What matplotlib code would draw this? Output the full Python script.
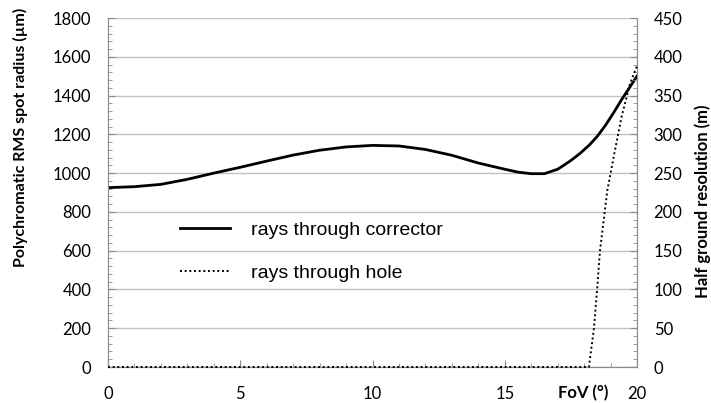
import matplotlib.pyplot as plt
from matplotlib.ticker import MultipleLocator

# rays through corrector: polychromatic RMS spot radius (um) vs FoV (deg)
fov_corr = [0, 1, 2, 3, 4, 5, 6, 7, 8, 9, 10, 11, 12, 13, 14, 15, 15.5, 16,
            16.5, 17, 17.25, 17.5, 17.85, 18.2, 18.5, 18.8, 19.1, 19.4,
            19.75, 20]
spot_corr = [925, 930, 942, 968, 1000, 1030, 1062, 1093, 1118, 1135, 1143,
             1140, 1122, 1092, 1052, 1020, 1005, 997, 997, 1020, 1042, 1065,
             1102, 1145, 1190, 1245, 1308, 1375, 1448, 1500]

# rays through hole: half ground resolution (m)
fov_hole = [0, 18.18, 18.37, 18.49, 18.6, 18.88, 19.17, 19.42, 19.74, 20]
res_hole = [0, 0, 49, 99, 150, 228, 280, 323, 366, 388]

x_ticks = [0, 5, 10, 15, 20]

tick_font = "Lato"
grey = "#8c8c8c"

fig = plt.figure(figsize=(7.11, 4.03), dpi=100)
ax = fig.add_axes([108 / 711, 36 / 403, 529 / 711, 349 / 403])
ax2 = ax.twinx()

l1, = ax.plot(fov_corr, spot_corr, color="black", lw=2.0, zorder=5,
              label="rays through corrector")
l2, = ax2.plot(fov_hole, res_hole, color="black", lw=1.4,
               linestyle=(0, (1, 1.4)), zorder=5, clip_on=False,
               label="rays through hole")

ax.set_xlim(0, 20)
ax.set_ylim(0, 1800)
ax2.set_ylim(0, 450)

ax.set_xticks(x_ticks)
ax.xaxis.set_minor_locator(MultipleLocator(1))
ax.yaxis.set_major_locator(MultipleLocator(200))
ax.yaxis.set_minor_locator(MultipleLocator(40))
ax2.yaxis.set_major_locator(MultipleLocator(50))
ax2.yaxis.set_minor_locator(MultipleLocator(10))

ax.grid(axis="y", which="major", color="#c0c0c0", lw=1.0)
ax.set_axisbelow(True)

for a in (ax, ax2):
    for s in a.spines.values():
        s.set_color(grey)
    a.spines["top"].set_visible(False)

ax.tick_params(axis="both", which="both", direction="in", color=grey,
               labelsize=12, pad=12)
ax.tick_params(which="major", length=5)
ax.tick_params(which="minor", length=3)
ax.tick_params(axis="x", pad=14)
ax2.tick_params(axis="y", which="both", direction="in", color=grey,
                labelsize=12, pad=12)
ax2.tick_params(which="major", length=5)
ax2.tick_params(which="minor", length=3)

for lab in ax.get_xticklabels() + ax.get_yticklabels() + ax2.get_yticklabels():
    lab.set_fontfamily(tick_font)

fig.text(20 / 711, 1 - 137 / 403, "Polychromatic RMS spot radius (\u00b5m)",
         rotation=90, ha="center", va="center", fontsize=11.5,
         fontweight="bold", family=tick_font)
fig.text(703 / 711, 1 - 201 / 403, "Half ground resolution (m)",
         rotation=90, ha="center", va="center", fontsize=12,
         fontweight="bold", family=tick_font)
fig.text(583 / 711, 1 - 393 / 403, "FoV (\u00b0)", ha="center", va="center",
         fontsize=12, fontweight="bold", family=tick_font)

leg = ax.legend(handles=[l1, l2], loc="upper left",
                bbox_to_anchor=(162 / 711, 1 - 204 / 403),
                bbox_transform=fig.transFigure, frameon=False,
                prop={"family": "Liberation Sans", "size": 14},
                handlelength=2.6, handletextpad=1.1, labelspacing=1.3)

fig.savefig("out.png", dpi=100)
